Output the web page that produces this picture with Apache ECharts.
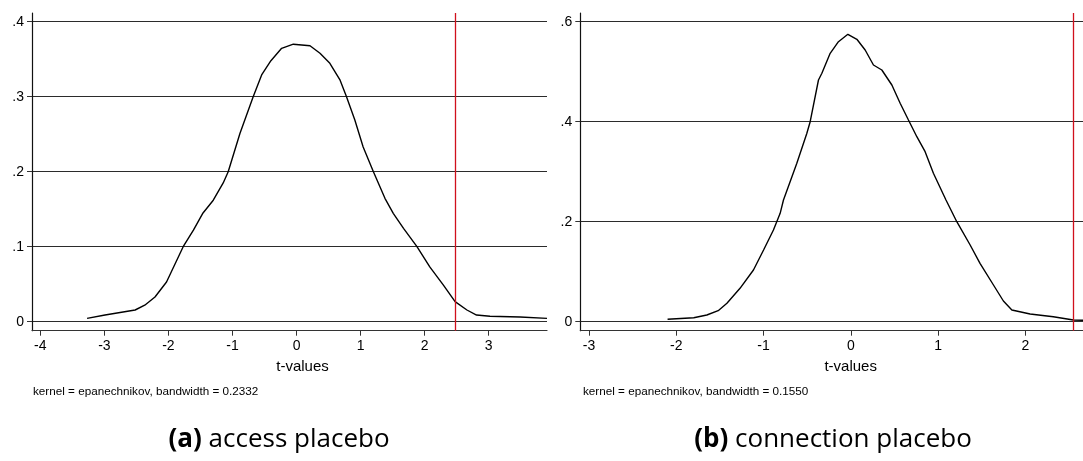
<!DOCTYPE html>
<html><head><meta charset="utf-8">
<script src="https://cdn.jsdelivr.net/npm/echarts@6/dist/echarts.min.js"></script>
<style>html,body{margin:0;padding:0;background:#fff}#c{width:1083px;height:461px}</style>
</head><body><div id="c"></div>
<script>
// ---- data ----
const xTicksA = [-4, -3, -2, -1, 0, 1, 2, 3];
const xTicksB = [-3, -2, -1, 0, 1, 2];
const densityA = [
  [-3.27,0.0045],[-2.99,0.009],[-2.52,0.0156],[-2.37,0.022],[-2.21,0.033],[-2.03,0.053],
  [-1.77,0.100],[-1.61,0.122],[-1.46,0.145],[-1.30,0.162],[-1.145,0.185],[-1.067,0.200],
  [-0.884,0.251],[-0.677,0.300],[-0.545,0.329],[-0.40,0.348],[-0.233,0.3645],[-0.05,0.370],
  [0.21,0.368],[0.366,0.358],[0.52,0.3445],[0.68,0.322],[0.78,0.300],[0.91,0.269],
  [1.04,0.233],[1.20,0.200],[1.38,0.1645],[1.51,0.1445],[1.67,0.1245],[1.88,0.100],
  [2.08,0.073],[2.29,0.049],[2.475,0.0267],[2.66,0.0156],[2.81,0.0089],[3.02,0.0072],
  [3.49,0.0063],[3.91,0.0045]
];
const densityB = [
  [-2.10,0.0048],[-1.80,0.008],[-1.65,0.0134],[-1.52,0.022],[-1.42,0.0368],[-1.27,0.0668],
  [-1.116,0.1034],[-1.00,0.1434],[-0.887,0.1834],[-0.81,0.2168],[-0.772,0.2434],[-0.619,0.3168],
  [-0.504,0.3768],[-0.466,0.400],[-0.371,0.4834],[-0.332,0.4968],[-0.237,0.5368],[-0.142,0.560],
  [-0.034,0.5748],[0.069,0.5648],[0.164,0.5434],[0.259,0.5134],[0.355,0.5034],[0.47,0.4734],
  [0.565,0.4368],[0.66,0.4034],[0.756,0.370],[0.851,0.340],[0.946,0.2968],[1.09,0.2434],
  [1.214,0.200],[1.367,0.1534],[1.48,0.1168],[1.634,0.0734],[1.748,0.0414],[1.845,0.0234],
  [2.054,0.0154],[2.32,0.010],[2.55,0.0034],[2.66,0.0028]
];
const xlineA = 2.48;
const xlineB = 2.55;
const noteA = 'kernel = epanechnikov, bandwidth = 0.2332';
const noteB = 'kernel = epanechnikov, bandwidth = 0.1550';
const captionA = ['(a)', 'access placebo'];
const captionB = ['(b)', 'connection placebo'];
const xTitle = 't-values';

// ---- chart ----
const FONT = 'Liberation Sans, Arial, sans-serif';
const CAP_FONT = 'Open Sans, sans-serif';
const chart = echarts.init(document.getElementById('c'), null, {renderer: 'canvas'});
const yFmt = v => (Math.abs(v) < 1e-9 ? '0' : String(+v.toFixed(2)).replace(/^0\./, '.').replace(/^-0\./, '-.'));
const gridLine = {show: true, lineStyle: {color: '#2b2b2b', width: 1.2}};

function innerX(gi, min, max) {
  return {type: 'value', gridIndex: gi, min, max, show: false};
}
function frameX(gi, min, max, ticks, pad) {
  return {
    type: 'value', gridIndex: gi, min, max,
    axisLine: {show: true, onZero: false, lineStyle: {color: '#333', width: 1.2}},
    axisTick: {show: true, length: 5, customValues: ticks, lineStyle: {color: '#333', width: 1}},
    axisLabel: {show: true, customValues: ticks, margin: 8, color: '#000', fontSize: 14, fontFamily: FONT},
    splitLine: {show: false},
    name: xTitle, nameLocation: 'middle', nameGap: 29,
    nameTextStyle: {color: '#000', fontSize: 15, fontFamily: FONT, padding: [0, 0, 0, pad]}
  };
}
function innerY(gi, max, interval) {
  return {
    type: 'value', gridIndex: gi, min: 0, max, interval,
    axisLine: {show: false, onZero: false},
    axisTick: {show: true, length: 5, lineStyle: {color: '#333', width: 1}},
    axisLabel: {show: true, margin: 8, color: '#000', fontSize: 14, fontFamily: FONT, formatter: yFmt},
    splitLine: gridLine
  };
}
function frameY(gi) {
  return {
    type: 'value', gridIndex: gi, min: 0, max: 1,
    axisLine: {show: true, onZero: false, lineStyle: {color: '#111', width: 1.2}},
    axisTick: {show: false}, axisLabel: {show: false}, splitLine: {show: false}
  };
}
function curve(xi, yi, data) {
  return {type: 'line', xAxisIndex: xi, yAxisIndex: yi, data, symbol: 'none', smooth: false,
    lineStyle: {color: '#000', width: 1.4}, silent: true, animation: false};
}
function vline(xi, yi, x) {
  return {type: 'line', xAxisIndex: xi, yAxisIndex: yi, data: [], symbol: 'none', animation: false,
    markLine: {silent: true, symbol: 'none', animation: false, label: {show: false},
      lineStyle: {color: '#d0101c', width: 1.3, type: 'solid'}, data: [{xAxis: x}]}};
}
function caption(c, cx) {
  return {type: 'text', x: cx, y: 440,
    style: {text: '{b|' + c[0] + '} ' + c[1], align: 'center', verticalAlign: 'middle',
      fontFamily: CAP_FONT, fontSize: 26, fill: '#000',
      rich: {b: {fontWeight: 'bold', fontFamily: CAP_FONT, fontSize: 26}}}};
}
function note(t, x) {
  return {type: 'text', x, y: 392,
    style: {text: t, align: 'left', verticalAlign: 'middle', fontFamily: FONT, fontSize: 11.7, fill: '#000'}};
}

chart.setOption({
  animation: false,
  backgroundColor: '#fff',
  grid: [
    {left: 32, top: 21.7, width: 515, height: 300},
    {left: 32, top: 13, width: 515, height: 317.7},
    {left: 580.3, top: 21.7, width: 502.7, height: 300},
    {left: 580.3, top: 13, width: 502.7, height: 317.7}
  ],
  xAxis: [
    innerX(0, -4.13, 3.91),
    frameX(1, -4.13, 3.91, xTicksA, 26),
    innerX(2, -3.1, 2.66),
    frameX(3, -3.1, 2.66, xTicksB, 38)
  ],
  yAxis: [
    innerY(0, 0.4, 0.1),
    frameY(1),
    innerY(2, 0.6, 0.2),
    frameY(3)
  ],
  series: [
    curve(0, 0, densityA),
    vline(1, 1, xlineA),
    curve(2, 2, densityB),
    vline(3, 3, xlineB)
  ],
  graphic: [
    note(noteA, 33), note(noteB, 583),
    caption(captionA, 279), caption(captionB, 833)
  ]
});
</script></body></html>
